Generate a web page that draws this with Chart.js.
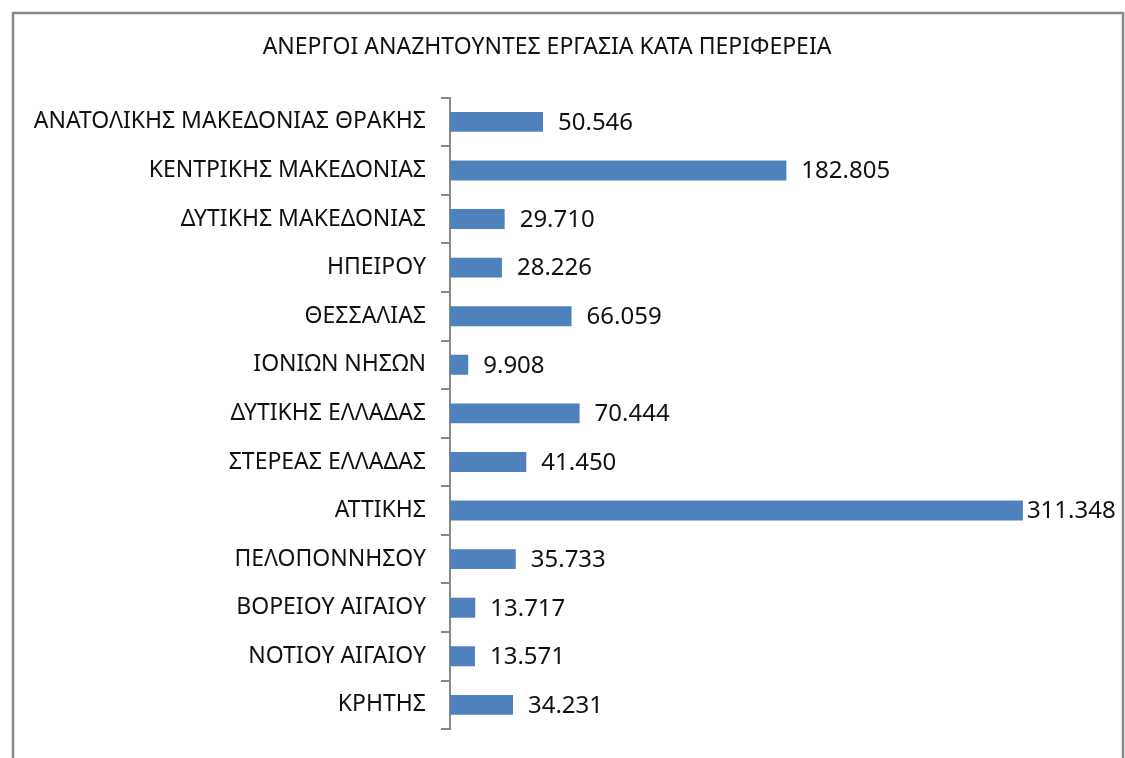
<!DOCTYPE html>
<html>
<head>
<meta charset="utf-8">
<script src="https://cdn.jsdelivr.net/npm/chart.js@4/dist/chart.umd.min.js"></script>
<style>
  html, body { margin: 0; padding: 0; background: #fff; }
  #wrap { width: 1125px; height: 758px; }
</style>
</head>
<body>
<div id="wrap"><canvas id="barchart" width="1125" height="758"></canvas></div>
<script>
const regions = [
    'ΑΝΑΤΟΛΙΚΗΣ ΜΑΚΕΔΟΝΙΑΣ ΘΡΑΚΗΣ',
    'ΚΕΝΤΡΙΚΗΣ ΜΑΚΕΔΟΝΙΑΣ',
    'ΔΥΤΙΚΗΣ ΜΑΚΕΔΟΝΙΑΣ',
    'ΗΠΕΙΡΟΥ',
    'ΘΕΣΣΑΛΙΑΣ',
    'ΙΟΝΙΩΝ ΝΗΣΩΝ',
    'ΔΥΤΙΚΗΣ ΕΛΛΑΔΑΣ',
    'ΣΤΕΡΕΑΣ ΕΛΛΑΔΑΣ',
    'ΑΤΤΙΚΗΣ',
    'ΠΕΛΟΠΟΝΝΗΣΟΥ',
    'ΒΟΡΕΙΟΥ ΑΙΓΑΙΟΥ',
    'ΝΟΤΙΟΥ ΑΙΓΑΙΟΥ',
    'ΚΡΗΤΗΣ'
];
const unemployed = [50546, 182805, 29710, 28226, 66059, 9908, 70444, 41450, 311348, 35733, 13717, 13571, 34231];
const chartTitle = 'ΑΝΕΡΓΟΙ ΑΝΑΖΗΤΟΥΝΤΕΣ ΕΡΓΑΣΙΑ ΚΑΤΑ ΠΕΡΙΦΕΡΕΙΑ';

const fontFamily = '"Noto Sans", "Open Sans", sans-serif';

// Greek-style thousands separator: 50.546
function formatValue(v) {
    return v.toString().replace(/\B(?=(\d{3})+(?!\d))/g, '.');
}

// outer frame of the chart
const framePlugin = {
    id: 'frame',
    beforeDraw(chart) {
        const ctx = chart.ctx;
        ctx.save();
        ctx.fillStyle = '#fff';
        ctx.fillRect(0, 0, chart.width, chart.height);
        ctx.strokeStyle = '#888888';
        ctx.lineWidth = 2.5;
        ctx.strokeRect(13, 13, 1110, 800);
        ctx.restore();
    }
};

// value labels after each bar
const valueLabels = {
    id: 'valueLabels',
    afterDatasetsDraw(chart) {
        const ctx = chart.ctx;
        const meta = chart.getDatasetMeta(0);
        ctx.save();
        ctx.font = '24px ' + fontFamily;
        ctx.fillStyle = '#111';
        ctx.textBaseline = 'middle';
        meta.data.forEach((bar, i) => {
            const text = formatValue(chart.data.datasets[0].data[i]);
            const w = ctx.measureText(text).width;
            let x = bar.x + 15;
            if (x + w > chart.width - 8) x = bar.x + 4;
            ctx.fillText(text, x, bar.y + 1);
        });
        ctx.restore();
    }
};

const ctx = document.getElementById('barchart').getContext('2d');

const myBarChart = new Chart(ctx, {
    type: 'bar',
    data: {
        labels: regions,
        datasets: [{
            label: 'Άνεργοι',
            data: unemployed,
            backgroundColor: '#4F81BD',
            borderWidth: 0,
            barPercentage: 0.41,
            categoryPercentage: 1.0
        }]
    },
    options: {
        indexAxis: 'y',
        responsive: false,
        animation: false,
        layout: {
            padding: { left: 0, right: 31, top: 0, bottom: 22 }
        },
        plugins: {
            legend: { display: false },
            tooltip: { enabled: false },
            title: {
                display: true,
                text: chartTitle,
                color: '#111',
                font: { family: fontFamily, size: 23, weight: 'normal' },
                padding: { top: 34, bottom: 36 }
            }
        },
        scales: {
            x: {
                display: false,
                min: 0,
                max: 350000
            },
            y: {
                afterFit: function(scale) {
                    scale.width = 450;
                },
                border: { display: true, color: '#888888', width: 2 },
                grid: {
                    display: true,
                    drawOnChartArea: false,
                    offset: true,
                    color: '#888888',
                    lineWidth: 2,
                    tickLength: 9
                },
                ticks: {
                    color: '#111',
                    padding: 15,
                    font: { family: fontFamily, size: 23 }
                }
            }
        }
    },
    plugins: [framePlugin, valueLabels]
});
</script>
</body>
</html>
